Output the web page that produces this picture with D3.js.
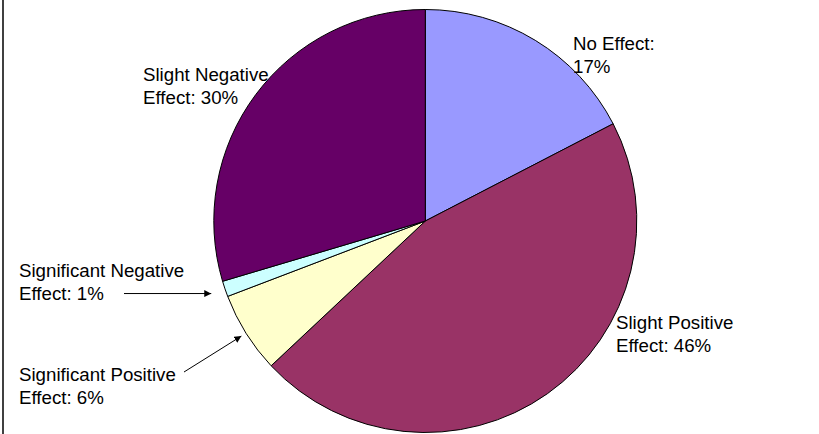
<!DOCTYPE html>
<html>
<head>
<meta charset="utf-8">
<script src="https://cdn.jsdelivr.net/npm/d3@7"></script>
<style>
  body { margin: 0; background: #fff; }
  text { font-family: "Liberation Sans", Arial, sans-serif; font-size: 18.7px; fill: #000; }
</style>
</head>
<body>
<div id="pie"></div>
<script>
// slices, clockwise from 12 o'clock (shares)
var categories = ["No Effect", "Slight Positive Effect", "Significant Positive Effect", "Significant Negative Effect", "Slight Negative Effect"];
var values = [17.4, 45.6, 6.2, 1.2, 29.6];
var labelLines = [
  ["No Effect:", "17%"],
  ["Slight Positive", "Effect: 46%"],
  ["Significant Positive", "Effect: 6%"],
  ["Significant Negative", "Effect: 1%"],
  ["Slight Negative", "Effect: 30%"]
];
var colors = ["#9999FF", "#993366", "#FFFFCC", "#CCFFFF", "#660066"];

var width = 819, height = 434;
var cx = 425.3, cy = 221, radius = 211.5;

// where each label block sits (x, first baseline) and where its arrow starts, if any
var labelLayout = [
  { x: 573, y: 50 },
  { x: 616, y: 329 },
  { x: 19, y: 381, arrowFrom: [184, 372], arrowR: 217 },
  { x: 19, y: 277, arrowFrom: [124, 292], arrowR: 226, flat: true },
  { x: 143, y: 81 }
];
var lineGap = 22.6;

var svg = d3.select("#pie")
  .append("svg")
  .attr("width", width)
  .attr("height", height);

svg.append("defs").append("marker")
  .attr("id", "head")
  .attr("viewBox", "0 0 10 10")
  .attr("refX", 10)
  .attr("refY", 5)
  .attr("markerWidth", 7)
  .attr("markerHeight", 7)
  .attr("markerUnits", "userSpaceOnUse")
  .attr("orient", "auto")
  .append("path")
  .attr("d", "M0,0L10,5L0,10z")
  .attr("fill", "#000");

// left frame edge
svg.append("line")
  .attr("x1", 3).attr("x2", 3)
  .attr("y1", 0).attr("y2", height)
  .attr("stroke", "#000")
  .attr("stroke-width", 1.5);

var pie = d3.pie()
  .sort(null)
  .value(function (d) { return d; });

var arcs = pie(values);

var arc = d3.arc()
  .innerRadius(0)
  .outerRadius(radius);

var g = svg.append("g")
  .attr("transform", "translate(" + cx + "," + cy + ")");

g.selectAll("path.slice")
  .data(arcs)
  .enter()
  .append("path")
  .attr("class", "slice")
  .attr("d", arc)
  .attr("fill", function (d, i) { return colors[i]; })
  .attr("stroke", "#000")
  .attr("stroke-width", 1)
  .attr("stroke-linejoin", "round");

// labels
var labels = svg.selectAll("text.lbl")
  .data(arcs)
  .enter()
  .append("text")
  .attr("class", "lbl")
  .attr("x", function (d, i) { return labelLayout[i].x; })
  .attr("y", function (d, i) { return labelLayout[i].y; });

labels.each(function (d, i) {
  d3.select(this).selectAll("tspan")
    .data(labelLines[i])
    .enter()
    .append("tspan")
    .attr("x", labelLayout[i].x)
    .attr("dy", function (t, j) { return j === 0 ? 0 : lineGap; })
    .text(function (t) { return t; });
});

// leader arrows for the two thin slices
arcs.forEach(function (d, i) {
  var lay = labelLayout[i];
  if (!lay.arrowFrom) return;
  var tip = d3.arc().innerRadius(lay.arrowR).outerRadius(lay.arrowR).centroid(d);
  var tx = cx + tip[0], ty = cy + tip[1];
  var fy = lay.flat ? ty : lay.arrowFrom[1];
  svg.append("line")
    .attr("x1", lay.arrowFrom[0]).attr("y1", fy)
    .attr("x2", tx).attr("y2", ty)
    .attr("stroke", "#000")
    .attr("stroke-width", 1)
    .attr("marker-end", "url(#head)");
});
</script>
</body>
</html>
